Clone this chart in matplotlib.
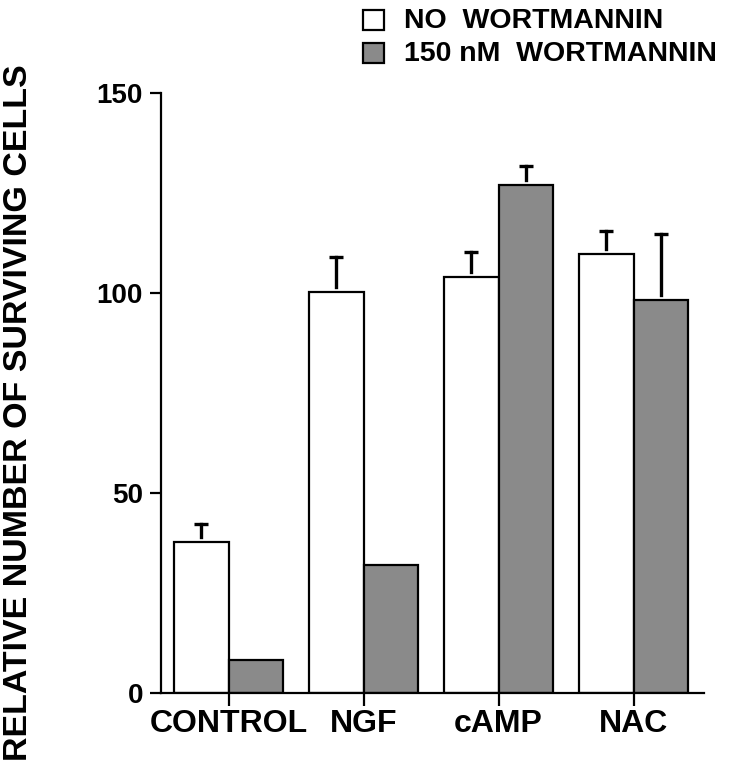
import numpy as np
import matplotlib
matplotlib.use("Agg")
import matplotlib.pyplot as plt
from matplotlib.patches import Rectangle

# data
categories = ["CONTROL", "NGF", "cAMP", "NAC"]
no_wort = [37.6, 100.2, 103.9, 109.7]
no_wort_err = [4.7, 8.8, 6.4, 5.7]
wort = [8.2, 31.9, 127.0, 98.2]
wort_err = [0.0, 0.0, 4.8, 16.5]
series_labels = ["NO  WORTMANNIN", "150 nM  WORTMANNIN"]
yticks = [0, 50, 100, 150]

plt.rcParams["font.family"] = ["Liberation Sans", "DejaVu Sans"]
plt.rcParams["font.weight"] = "bold"

gray = "#8a8a8a"
lw = 1.6

fig = plt.figure(figsize=(7.29, 7.65), dpi=100)
ax = fig.add_axes([161 / 729, 1 - 692.7 / 765, (704 - 161) / 729, 600 / 765])

x = np.arange(len(categories))
w = 0.405
ax.bar(x - w / 2, no_wort, w, color="white", edgecolor="black", linewidth=lw, zorder=2)
ax.bar(x + w / 2, wort, w, color=gray, edgecolor="black", linewidth=lw, zorder=2)

# error bars: upward only, small gap above the bar, T cap
gap = 1.3
cap = 0.052
for xs, vals, errs in [(x - w / 2, no_wort, no_wort_err), (x + w / 2, wort, wort_err)]:
    for xi, v, e in zip(xs, vals, errs):
        if e <= 0:
            continue
        ax.plot([xi, xi], [v + gap, v + e], color="black", lw=2.4, clip_on=False, zorder=3)
        ax.plot([xi - cap, xi + cap], [v + e, v + e], color="black", lw=2.4,
                clip_on=False, zorder=3, solid_capstyle="butt")

ax.set_xlim(-0.5, 3.52)
ax.set_ylim(0, 150)
ax.set_yticks(yticks)
ax.set_yticklabels([str(t) for t in yticks], fontsize=20, fontweight="bold")
ax.set_xticks(x)
ax.set_xticklabels(categories, fontsize=23, fontweight="bold")
ax.tick_params(axis="y", direction="out", length=8, width=lw, pad=5)
ax.tick_params(axis="x", direction="out", length=9, width=lw, pad=3)
for s in ["top", "right"]:
    ax.spines[s].set_visible(False)
for s in ["left", "bottom"]:
    ax.spines[s].set_linewidth(lw)

fig.text(19 / 729, 1 - 64 / 765, "RELATIVE NUMBER OF SURVIVING CELLS", rotation=90,
         ha="center", va="top", fontsize=24.5, fontweight="bold")

# legend drawn by hand
for i, (lab, fc) in enumerate(zip(series_labels, ["white", gray])):
    yc = 20 + i * 33
    fig.patches.append(Rectangle((363 / 729, 1 - (yc + 10) / 765), 21 / 729, 20 / 765,
                                 facecolor=fc, edgecolor="black", linewidth=lw,
                                 transform=fig.transFigure, figure=fig))
    fig.text(404 / 729, 1 - (yc + 1) / 765, lab, ha="left", va="center",
             fontsize=20.5, fontweight="bold")

fig.savefig("out.png", dpi=100)
